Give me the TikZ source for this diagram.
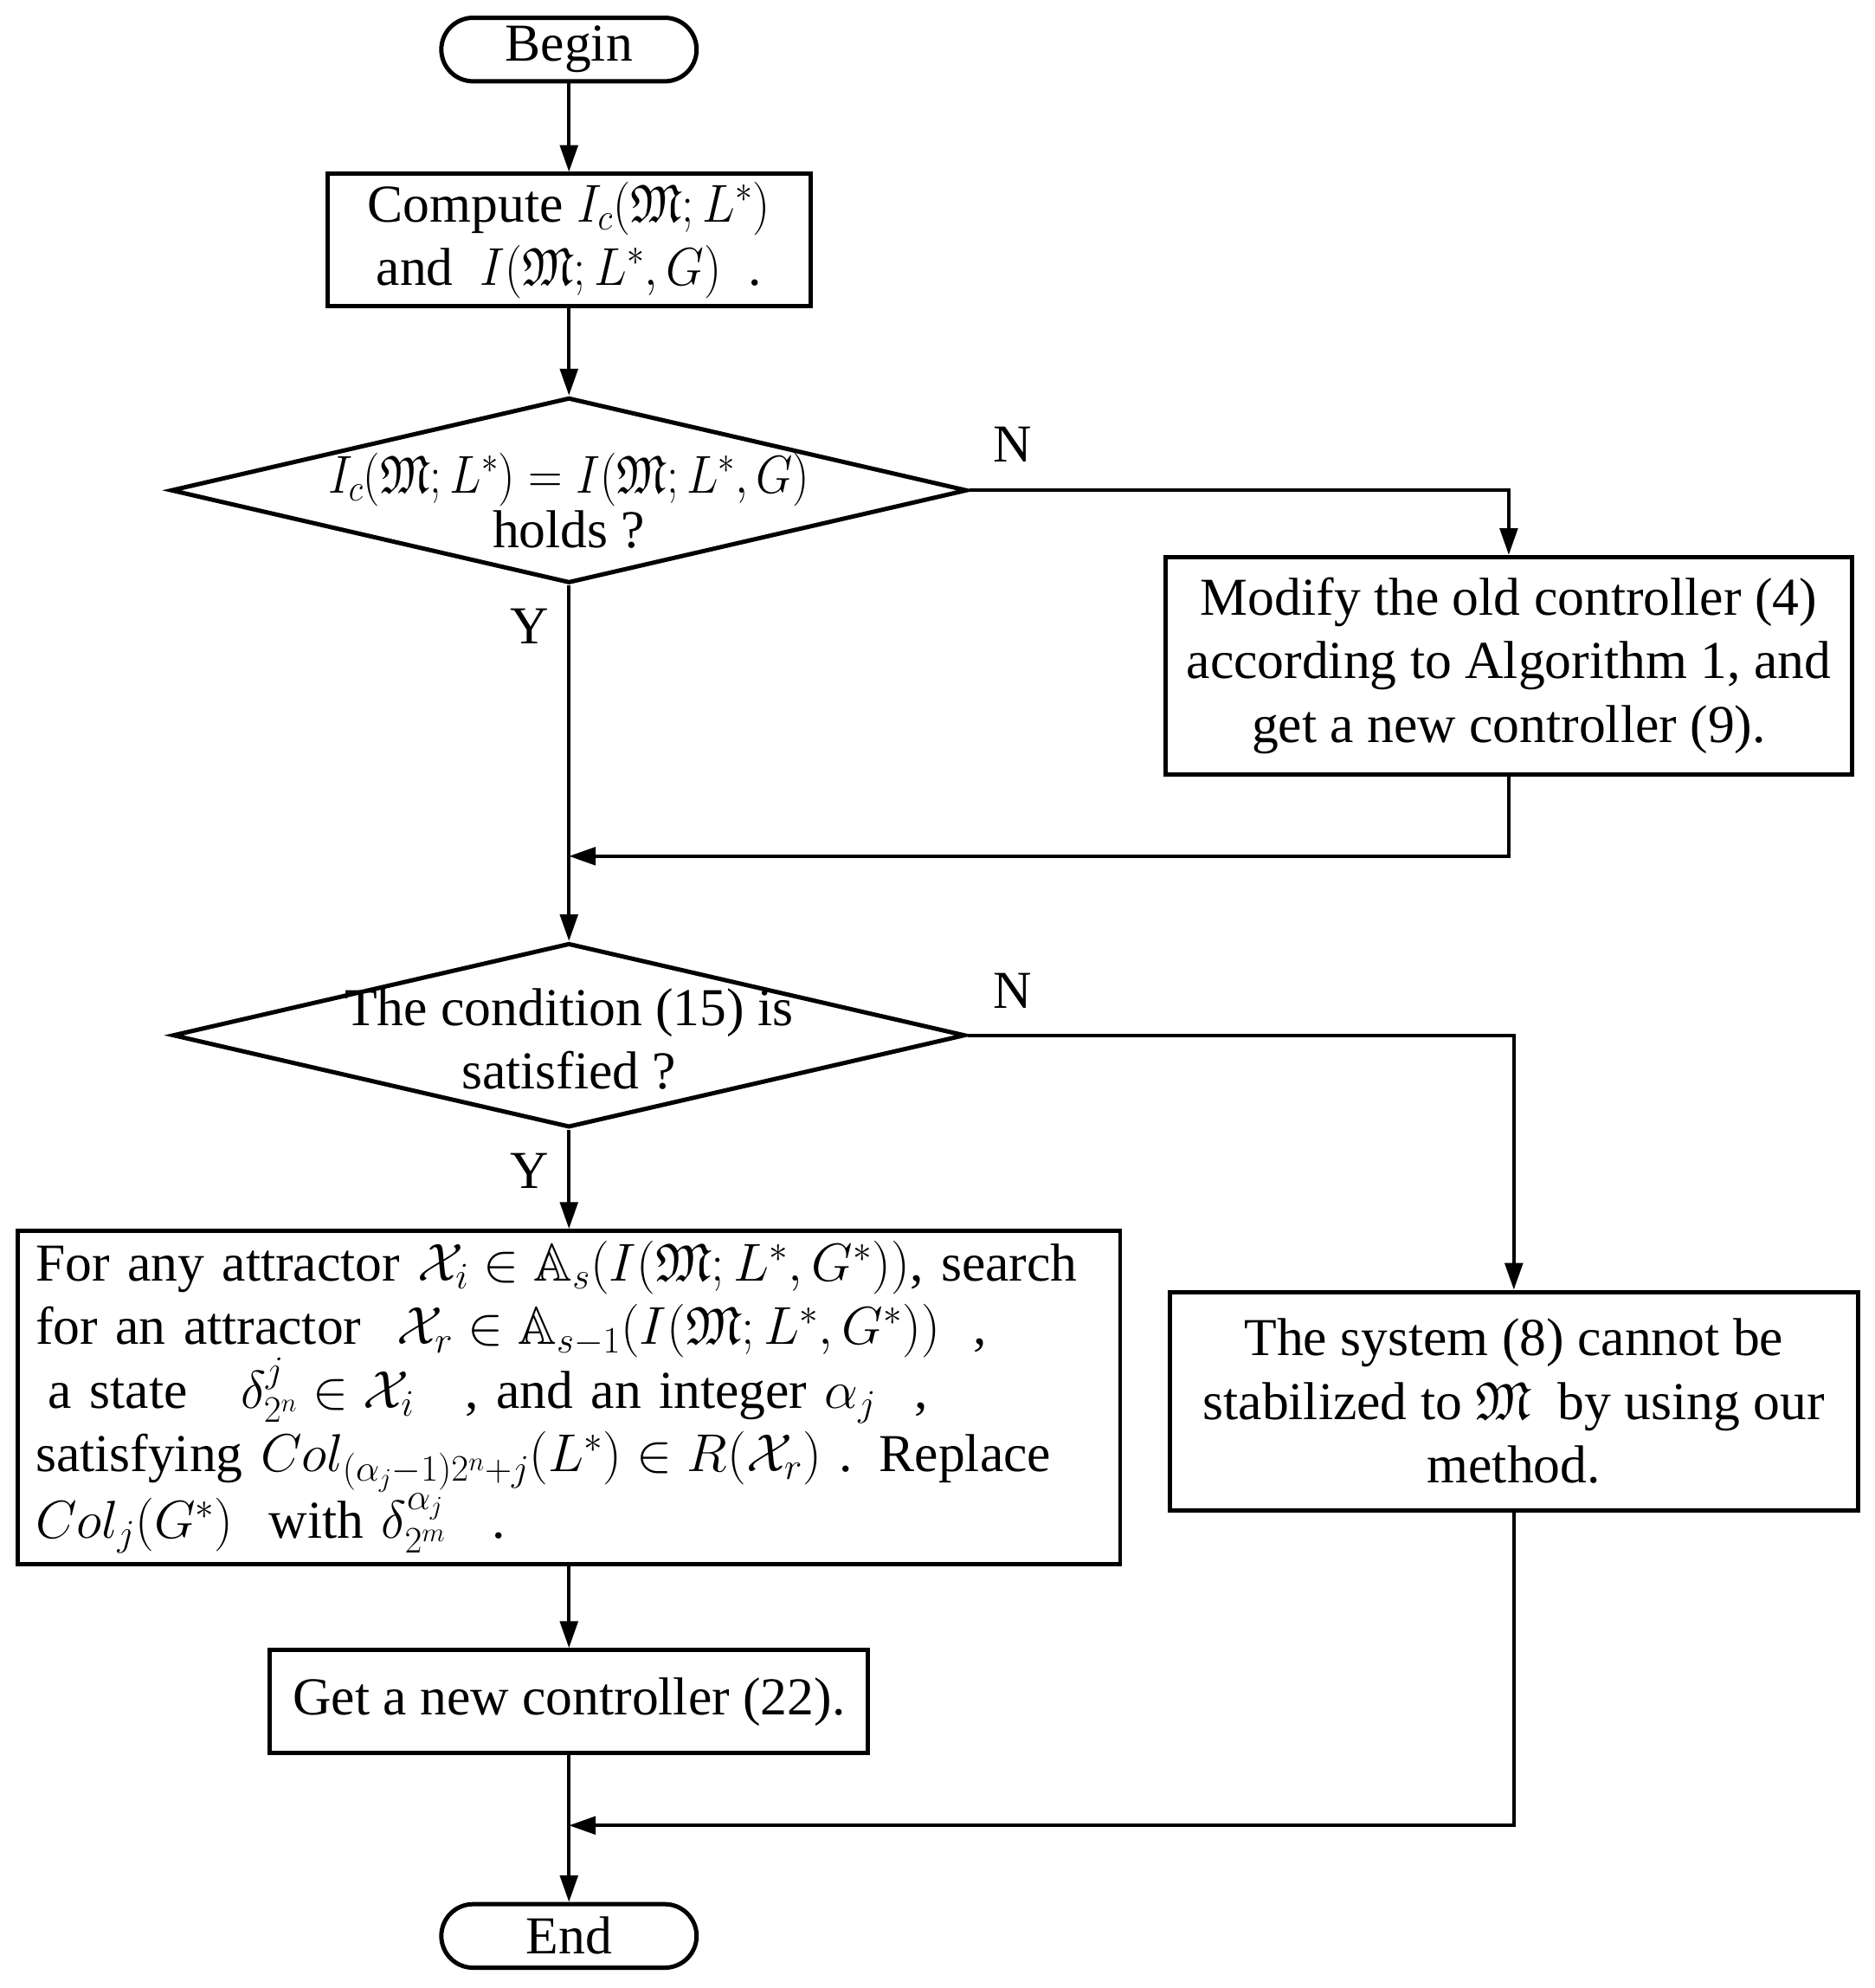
\RequirePackage{fix-cm}
\documentclass[tikz,border=0pt]{standalone}
\usepackage{amsmath,amssymb,graphicx}
\usepackage{fontspec}
\setmainfont{Liberation Serif}
\usetikzlibrary{arrows.meta,shapes.geometric}
\lineskiplimit=-100pt
\begin{document}
\begin{tikzpicture}[x=1pt,y=-1pt,
  txt/.style={font=\fontsize{42}{50}\selectfont},
  box/.style={draw, line width=3.4pt, inner sep=0pt, txt, align=center},
  term/.style={box, rounded corners=25pt},
  dia/.style={draw, diamond, line width=3.4pt, inner sep=0pt},
  arr/.style={line width=2.6pt, -{Triangle[length=21pt,width=14pt]}}]
\useasboundingbox (0,0) rectangle (1476,1565);

\node[term, minimum width=201pt, minimum height=50pt] (begin) at (448,39) {Begin};
\node[box, minimum width=380pt, minimum height=104pt] (compute) at (448,189)
  {Compute \scalebox{0.92}[1]{$I_c(\mathfrak{M};L^*)$}\\ and~ \scalebox{0.92}[1]{$I(\mathfrak{M};L^*,G)$}~~.};
\node[dia, minimum width=627pt, minimum height=146pt] (d1) at (448,386) {};
\node[font=\fontsize{42}{43}\selectfont, align=center, inner sep=0pt] (d1t) at (448,394)
  {\scalebox{0.89}[1]{$I_c(\mathfrak{M};L^*)=I(\mathfrak{M};L^*,G)$}\\ holds ?};
\node[box, minimum width=540pt, minimum height=171pt] (modify) at (1188,524)
  {Modify the old controller (4)\\ according to Algorithm 1, and\\ get a new controller (9).};
\node[dia, minimum width=624pt, minimum height=145pt] (d2) at (448,815) {};
\node[txt, align=center, inner sep=0pt] (d2t) at (448,818)
  {The condition (15) is\\ satisfied ?};
\node[box, align=left, text width=840pt, minimum width=868pt, minimum height=262pt] (big) at (448,1100)
  {For any attractor~$\mathcal{X}_i \in \mathbb{A}_s(I(\mathfrak{M};L^*,G^*))$, search\\
   for an attractor~~$\mathcal{X}_r \in \mathbb{A}_{s-1}(I(\mathfrak{M};L^*,G^*))$\hspace{26pt},\\
   \hspace{10pt}a state~~~$\delta^j_{2^n} \in \mathcal{X}_i$\hspace{40pt}, and an integer~$\alpha_j$\hspace{30pt},\\
   satisfying~$Col_{(\alpha_j-1)2^n+j}(L^*) \in R(\mathcal{X}_r)$~. Replace\\
   $Col_j(G^*)$~~with~$\delta^{\alpha_j}_{2^m}$\hspace{36pt}.};
\node[box, minimum width=542pt, minimum height=172pt] (system) at (1192,1103)
  {The system (8) cannot be\\ stabilized to $\mathfrak{M}$~ by using our\\ method.};
\node[box, minimum width=471pt, minimum height=81pt] (get) at (448,1339.5)
  {Get a new controller (22).};
\node[term, minimum width=201pt, minimum height=50pt] (end) at (448,1524) {End};

\node[txt] (n1) at (797,350) {N};
\node[txt] (y1) at (417,493) {Y};
\node[txt] (n2) at (797,780) {N};
\node[txt] (y2) at (417,922) {Y};

\coordinate (j1) at (448,674);
\coordinate (j2) at (448,1437);

\draw[arr] (begin) -- (compute);
\draw[arr] (compute) -- (d1);
\draw[arr] (d1.east) -| (modify.north);
\draw[arr] (modify.south) |- (j1);
\draw[arr] (d1.south) -- (d2.north);
\draw[arr] (d2.east) -| (system.north);
\draw[arr] (d2.south) -- (big.north);
\draw[arr] (big.south) -- (get.north);
\draw[arr] (get.south) -- (end.north);
\draw[arr] (system.south) |- (j2);
\end{tikzpicture}
\end{document}
